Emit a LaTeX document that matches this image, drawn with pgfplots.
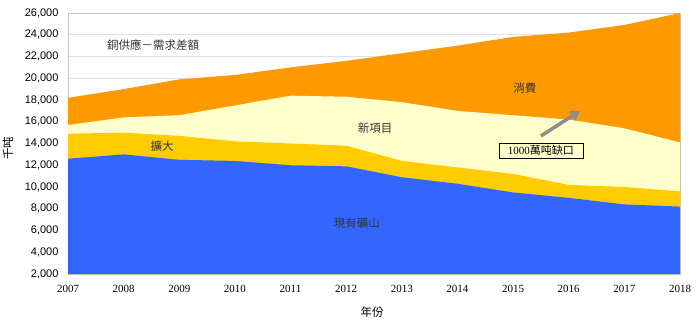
\documentclass[border=0pt]{standalone}
\usepackage{fontspec}
\setmainfont{Liberation Serif}
\newfontfamily\cjk{Noto Sans CJK TC}
\newfontfamily\arialf{Liberation Sans}
\usepackage{pgfplots}
\pgfplotsset{compat=1.18}
\usetikzlibrary{arrows.meta}
\definecolor{cBlue}{HTML}{3366FF}
\definecolor{cYel}{HTML}{FFCC00}
\definecolor{cLight}{HTML}{FFFFCC}
\definecolor{cOrange}{HTML}{FF9900}
\definecolor{cArrow}{HTML}{8C8C8C}
\begin{document}
\begin{tikzpicture}
\useasboundingbox (-68pt,-48pt) rectangle (632pt,274pt);
\begin{axis}[
  scale only axis, width=612pt, height=261pt,
  xmin=2007, xmax=2018, ymin=2000, ymax=26000,
  xtick={2007,2008,...,2018},
  ytick={2000,4000,...,26000},
  scaled y ticks=false, scaled x ticks=false,
  ymajorgrids, grid style={gray!25, line width=0.8pt},
  axis line style={gray!45},
  xtick pos=bottom, ytick pos=left,
  tick align=inside,
  x tick style={gray!55}, y tick style={draw=none},
  major tick length=4pt,
  /pgf/number format/assume math mode=true,
  yticklabel style={font=\arialf\fontsize{11}{12}\selectfont, /pgf/number format/fixed, /pgf/number format/1000 sep={,}, xshift=-6pt},
  xticklabel style={font=\rmfamily\fontsize{11}{12}\selectfont, /pgf/number format/1000 sep={}, yshift=-8pt},
  clip=true,
]
% totals (top edge of each band)
\addplot[draw=none, fill=cOrange] coordinates {
 (2007,18200) (2008,19000) (2009,19900) (2010,20300) (2011,21000) (2012,21600)
 (2013,22300) (2014,23000) (2015,23800) (2016,24200) (2017,24900) (2018,26000)} \closedcycle;
\addplot[draw=none, fill=cLight] coordinates {
 (2007,15700) (2008,16400) (2009,16600) (2010,17500) (2011,18400) (2012,18300)
 (2013,17800) (2014,17000) (2015,16600) (2016,16200) (2017,15400) (2018,14100)} \closedcycle;
\addplot[draw=none, fill=cYel] coordinates {
 (2007,14900) (2008,15000) (2009,14700) (2010,14200) (2011,14000) (2012,13800)
 (2013,12400) (2014,11800) (2015,11200) (2016,10200) (2017,10000) (2018,9600)} \closedcycle;
\addplot[draw=none, fill=cBlue] coordinates {
 (2007,12600) (2008,13000) (2009,12500) (2010,12400) (2011,12000) (2012,11900)
 (2013,10900) (2014,10300) (2015,9500) (2016,9000) (2017,8400) (2018,8200)} \closedcycle;

\node[font=\cjk\fontsize{11.5}{12}\selectfont, text=black!80] at (axis cs:2008.53,23060) {銅供應－需求差額};
\node[font=\cjk\fontsize{11.5}{12}\selectfont, text=black!80] at (axis cs:2008.69,13770) {擴大};
\node[font=\cjk\fontsize{11.5}{12}\selectfont, text=black!80] at (axis cs:2012.52,15400) {新項目};
\node[font=\cjk\fontsize{11.5}{12}\selectfont, text=black!80] at (axis cs:2015.21,19075) {消費};
\node[font=\cjk\fontsize{11.5}{12}\selectfont, text=black!80] at (axis cs:2012.19,6720) {現有礦山};
\draw[cArrow, line width=3.5pt, -{Triangle[length=9pt,width=11pt]}] (axis cs:2015.50,14690) -- (axis cs:2016.20,16990);
\node[draw=black, line width=0.6pt, inner sep=1.5pt, minimum width=84pt, minimum height=15pt, font=\fontsize{11}{12}\selectfont] at (axis cs:2015.50,13360) {1000{\cjk 萬吨缺口}};
\end{axis}
\node[rotate=90, font=\cjk\fontsize{11.5}{12}\selectfont] at (-60pt,126pt) {千吨};
\node[font=\cjk\fontsize{11.5}{12}\selectfont] at (304pt,-38pt) {年份};
\end{tikzpicture}
\end{document}
